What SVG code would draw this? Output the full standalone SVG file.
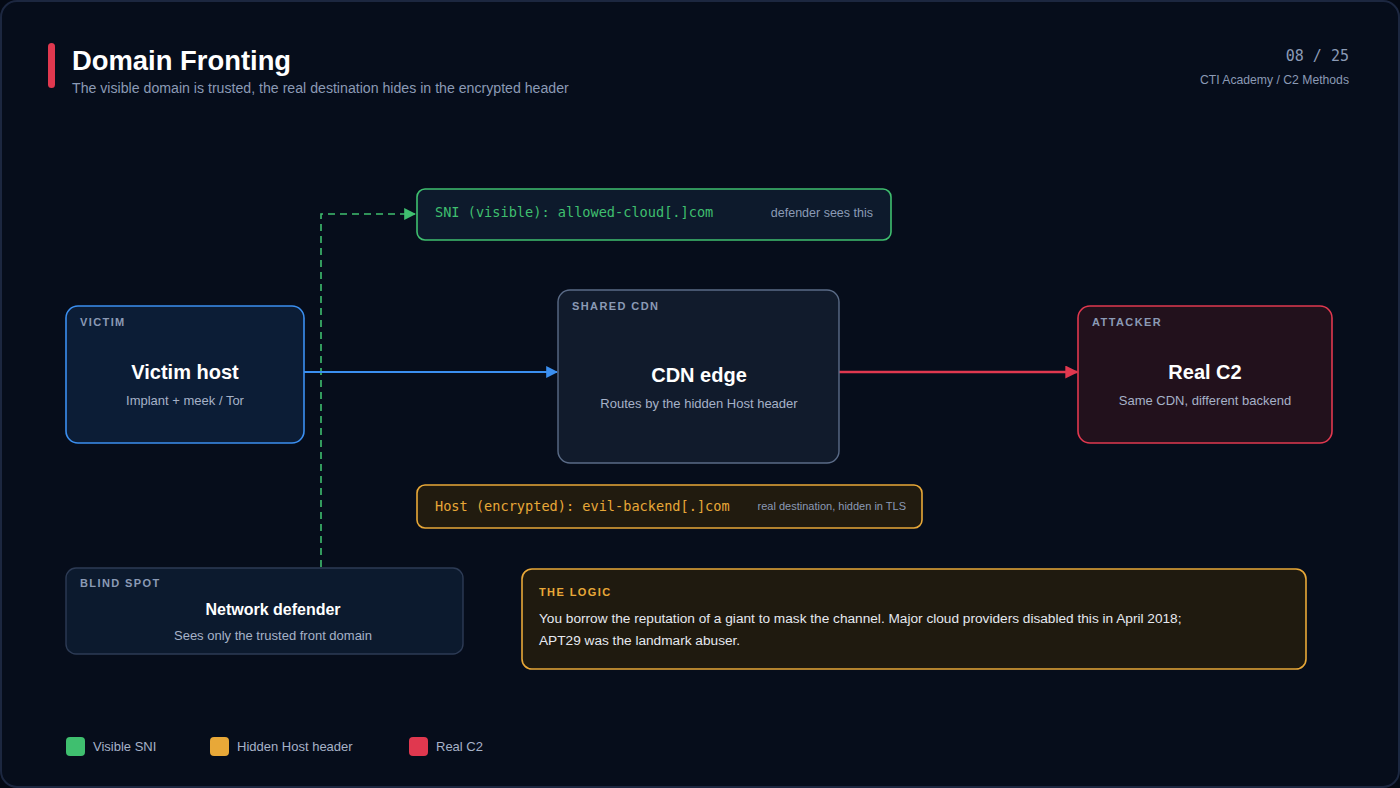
<svg xmlns="http://www.w3.org/2000/svg" width="1400" height="788" viewBox="0 0 1400 788">
<defs>
<style>
.sans{font-family:"Liberation Sans",Arial,sans-serif}
.mono{font-family:"DejaVu Sans Mono","Liberation Mono",monospace}
.tag{font-family:"Liberation Sans",Arial,sans-serif;font-size:11px;font-weight:bold;letter-spacing:1.4px;fill:#8b9ab5}
.ttl{font-family:"Liberation Sans",Arial,sans-serif;font-size:20px;font-weight:bold;fill:#ffffff;text-anchor:middle}
.sub{font-family:"Liberation Sans",Arial,sans-serif;font-size:13px;fill:#a6b2c8;text-anchor:middle}
.lg{font-family:"Liberation Sans",Arial,sans-serif;font-size:13px;fill:#a6b2c8}
</style>
<marker id="ah-blue" viewBox="0 0 10 10" refX="9" refY="5" markerWidth="12" markerHeight="12" markerUnits="userSpaceOnUse" orient="auto"><path d="M0,0 L10,5 L0,10 z" fill="#3b8ff0"/></marker>
<marker id="ah-red" viewBox="0 0 10 10" refX="9" refY="5" markerWidth="13" markerHeight="13" markerUnits="userSpaceOnUse" orient="auto"><path d="M0,0 L10,5 L0,10 z" fill="#e0384f"/></marker>
<marker id="ah-green" viewBox="0 0 10 10" refX="9" refY="5" markerWidth="12" markerHeight="12" markerUnits="userSpaceOnUse" orient="auto"><path d="M0,0 L10,5 L0,10 z" fill="#3fbf6f"/></marker>
</defs>
<rect x="0" y="0" width="1400" height="788" fill="#040914"/>
<rect x="1" y="1" width="1398" height="786" rx="16" fill="#060d1b" stroke="#1c2740" stroke-width="2"/>

<g id="header">
<rect x="48" y="43" width="7" height="45" rx="3.5" fill="#e0384f"/>
<text x="72" y="70" class="sans" font-size="27.4" font-weight="bold" fill="#ffffff">Domain Fronting</text>
<text x="72" y="93" class="sans" font-size="14.15" fill="#8b9ab5">The visible domain is trusted, the real destination hides in the encrypted header</text>
<text x="1349" y="61" class="mono" font-size="15" fill="#8b9ab5" text-anchor="end">08 / 25</text>
<text x="1349" y="84" class="sans" font-size="12.2" fill="#8b9ab5" text-anchor="end">CTI Academy / C2 Methods</text>
</g>

<g id="connectors">
<path d="M321,567 L321,214 L415,214" fill="none" stroke="#3fbf6f" stroke-width="1.6" stroke-dasharray="7,5" marker-end="url(#ah-green)"/>
<line x1="304" y1="372" x2="557" y2="372" stroke="#3b8ff0" stroke-width="2" marker-end="url(#ah-blue)"/>
<line x1="839" y1="372" x2="1077" y2="372" stroke="#e0384f" stroke-width="2.4" marker-end="url(#ah-red)"/>
</g>

<g id="sni">
<rect x="417" y="189" width="474" height="51" rx="8" fill="#0d1a2c" stroke="#3fbf6f" stroke-width="1.6"/>
<text x="435" y="217" class="mono" font-size="13.6" fill="#3fbf6f">SNI (visible): allowed-cloud[.]com</text>
<text x="873" y="217" class="sans" font-size="12.5" fill="#8b9ab5" text-anchor="end">defender sees this</text>
</g>

<g id="victim">
<rect x="66" y="306" width="238" height="137" rx="12" fill="#0c1d36" stroke="#3b8ff0" stroke-width="1.6"/>
<text x="80" y="326" class="tag">VICTIM</text>
<text x="185" y="379" class="ttl">Victim host</text>
<text x="185" y="405" class="sub">Implant + meek / Tor</text>
</g>

<g id="cdn">
<rect x="558" y="290" width="281" height="173" rx="12" fill="#111b2c" stroke="#5a6b87" stroke-width="1.4"/>
<text x="572" y="310" class="tag">SHARED CDN</text>
<text x="699" y="382" class="ttl">CDN edge</text>
<text x="699" y="408" class="sub">Routes by the hidden Host header</text>
</g>

<g id="c2">
<rect x="1078" y="306" width="254" height="137" rx="12" fill="#22111c" stroke="#e0384f" stroke-width="1.6"/>
<text x="1092" y="326" class="tag">ATTACKER</text>
<text x="1205" y="379" class="ttl">Real C2</text>
<text x="1205" y="405" class="sub">Same CDN, different backend</text>
</g>

<g id="host">
<rect x="417" y="485" width="505" height="43" rx="8" fill="#211b0f" stroke="#e8a838" stroke-width="1.6"/>
<text x="435" y="511" class="mono" font-size="13.6" fill="#e8a838">Host (encrypted): evil-backend[.]com</text>
<text x="906" y="510" class="sans" font-size="11" fill="#8b9ab5" text-anchor="end">real destination, hidden in TLS</text>
</g>

<g id="defender">
<rect x="66" y="568" width="397" height="86" rx="10" fill="#0c1a2e" stroke="#2d3b55" stroke-width="1.4"/>
<text x="80" y="587" class="tag">BLIND SPOT</text>
<text x="273" y="615" class="sans" font-size="16" font-weight="bold" fill="#ffffff" text-anchor="middle">Network defender</text>
<text x="273" y="640" class="sub">Sees only the trusted front domain</text>
</g>

<g id="logic">
<rect x="522" y="569" width="784" height="100" rx="10" fill="#1f1a0f" stroke="#e8a838" stroke-width="1.6"/>
<text x="539" y="596" class="tag" style="fill:#e8a838">THE LOGIC</text>
<text x="539" y="623" class="sans" font-size="13.66" fill="#e6e9ef">You borrow the reputation of a giant to mask the channel. Major cloud providers disabled this in April 2018;</text>
<text x="539" y="645" class="sans" font-size="13.66" fill="#e6e9ef">APT29 was the landmark abuser.</text>
</g>

<g id="legend">
<rect x="66" y="737" width="19" height="19" rx="4" fill="#3fbf6f"/>
<text x="93" y="751" class="lg">Visible SNI</text>
<rect x="210" y="737" width="19" height="19" rx="4" fill="#e8a838"/>
<text x="237" y="751" class="lg">Hidden Host header</text>
<rect x="409" y="737" width="19" height="19" rx="4" fill="#e0384f"/>
<text x="436" y="751" class="lg">Real C2</text>
</g>
</svg>
